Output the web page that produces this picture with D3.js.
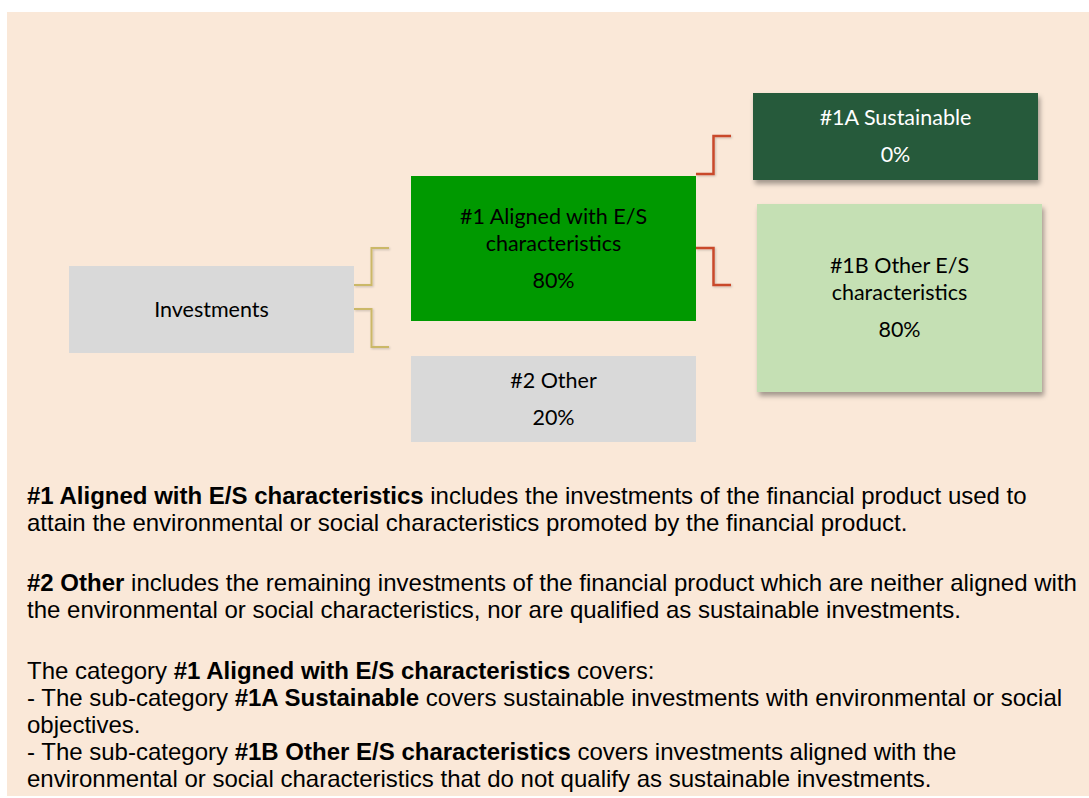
<!DOCTYPE html>
<html>
<head>
<meta charset="utf-8">
<script src="https://cdn.jsdelivr.net/npm/d3@7"></script>
<style>
  body { margin: 0; background: #fff; }
</style>
</head>
<body>
<div id="chart"></div>
<script>
// node data
var nodeIds = ["inv", "n1", "n2", "n1a", "n1b"];
var nodeLines = [["Investments"], ["#1 Aligned with E/S", "characteristics"], ["#2 Other"], ["#1A Sustainable"], ["#1B Other E/S", "characteristics"]];
var nodeValues = [null, 80, 20, 0, 80];
var nodeFills = ["#d9d9d9", "#009900", "#d9d9d9", "#265a3b", "#c5e0b4"];
var nodeTextColors = ["#000", "#000", "#000", "#fff", "#000"];
var nodeShadow = [false, false, false, true, true];
var links = [["inv", "n1"], ["inv", "n2"], ["n1", "n1a"], ["n1", "n1b"]];

// explanation text, segments [text, bold]
var notes = [
  [[["#1 Aligned with E/S characteristics", true], [" includes the investments of the financial product used to", false]],
   [["attain the environmental or social characteristics promoted by the financial product.", false]]],
  [[["#2 Other", true], [" includes the remaining investments of the financial product which are neither aligned with", false]],
   [["the environmental or social characteristics, nor are qualified as sustainable investments.", false]]],
  [[["The category ", false], ["#1 Aligned with E/S characteristics", true], [" covers:", false]],
   [["- The sub-category ", false], ["#1A Sustainable", true], [" covers sustainable investments with environmental or social", false]],
   [["objectives.", false]],
   [["- The sub-category ", false], ["#1B Other E/S characteristics", true], [" covers investments aligned with the", false]],
   [["environmental or social characteristics that do not qualify as sustainable investments.", false]]]
];

var W = 1089, H = 798;

var svg = d3.select("#chart").append("svg")
  .attr("width", W).attr("height", H);

var defs = svg.append("defs");
var f = defs.append("filter").attr("id", "shadow")
  .attr("x", "-10%").attr("y", "-10%").attr("width", "130%").attr("height", "140%");
f.append("feDropShadow").attr("dx", 2).attr("dy", 4).attr("stdDeviation", 2.5)
  .attr("flood-color", "#000").attr("flood-opacity", 0.35);
var lf = defs.append("filter").attr("id", "lineglow")
  .attr("x", "-20%").attr("y", "-20%").attr("width", "140%").attr("height", "140%");
lf.append("feDropShadow").attr("dx", 1).attr("dy", 1).attr("stdDeviation", 0.8)
  .attr("flood-color", "#000").attr("flood-opacity", 0.2);

// background panel
svg.append("rect")
  .attr("x", 7).attr("y", 12).attr("width", W - 7).attr("height", 784)
  .attr("fill", "#fae8d8");

// layout: columns and node boxes
var colX = d3.scaleOrdinal().domain([0, 1, 2]).range([69, 411, 753]);
var boxW = 285;
var layout = {
  inv: {col: 0, dx: 0, y: 266, h: 87},
  n1:  {col: 1, dx: 0, y: 176, h: 145},
  n2:  {col: 1, dx: 0, y: 356, h: 86},
  n1a: {col: 2, dx: 0, y: 93, h: 87},
  n1b: {col: 2, dx: 4, y: 204, h: 188}
};
// elbow anchors: start offset from source top, end y of the branch
var linkAnchor = [[19, 248], [43, 347], [-2, 136], [72, 285]];

var nodes = nodeIds.map(function(id, i) {
  var l = layout[id];
  return {
    id: id, lines: nodeLines[i], value: nodeValues[i],
    fill: nodeFills[i], color: nodeTextColors[i], shadow: nodeShadow[i],
    x: colX(l.col) + l.dx, y: l.y, w: boxW, h: l.h
  };
});
var byId = {};
nodes.forEach(function(n) { byId[n.id] = n; });

// connectors (elbow shape)
var linkColor = {inv: "#cbb867", n1: "#c94a2c"};
var line = d3.line();
svg.append("g").selectAll("path").data(links).enter().append("path")
  .attr("d", function(lk, i) {
    var s = byId[lk[0]];
    var sx = s.x + s.w, sy = s.y + linkAnchor[i][0], ty = linkAnchor[i][1];
    var mx = sx + 17.5, ex = sx + 35;
    return line([[sx, sy], [mx, sy], [mx, ty], [ex, ty]]);
  })
  .attr("fill", "none")
  .attr("stroke", function(lk) { return linkColor[lk[0]]; })
  .attr("stroke-width", function(lk) { return lk[0] === "n1" ? 2.5 : 2; })
  .attr("filter", "url(#lineglow)");

// boxes
var gNodes = svg.selectAll("g.node").data(nodes).enter().append("g")
  .attr("class", "node");

gNodes.append("rect")
  .attr("x", function(d) { return d.x; })
  .attr("y", function(d) { return d.y; })
  .attr("width", function(d) { return d.w; })
  .attr("height", function(d) { return d.h; })
  .attr("fill", function(d) { return d.fill; })
  .attr("filter", function(d) { return d.shadow ? "url(#shadow)" : null; });

var lh = 27, gap = 37;
gNodes.each(function(d) {
  var g = d3.select(this);
  var rows = d.lines.map(function(t) { return t; });
  if (d.value !== null) rows.push(d.value + "%");
  var n = d.lines.length;
  var total = (n - 1) * lh + (d.value !== null ? gap : 0);
  var y0 = d.y + d.h / 2 - total / 2 + 7;
  g.selectAll("text").data(rows).enter().append("text")
    .attr("x", d.x + d.w / 2)
    .attr("y", function(t, i) { return i < n ? y0 + i * lh : y0 + (n - 1) * lh + gap; })
    .attr("text-anchor", "middle")
    .attr("font-family", "Lato, 'Open Sans', sans-serif")
    .attr("font-size", 21.5)
    .attr("fill", d.color)
    .text(function(t) { return t; });
});

// explanatory notes
var gNotes = svg.append("g")
  .attr("font-family", "'Liberation Sans', Arial, sans-serif")
  .attr("font-size", 24)
  .attr("fill", "#000");
var paraY = [504, 591, 679];
var noteLh = 27;
notes.forEach(function(para, pi) {
  para.forEach(function(segs, li) {
    var t = gNotes.append("text")
      .attr("x", 27)
      .attr("y", paraY[pi] + li * noteLh);
    segs.forEach(function(s) {
      t.append("tspan")
        .attr("font-weight", s[1] ? "bold" : "normal")
        .text(s[0]);
    });
  });
});
</script>
</body>
</html>
